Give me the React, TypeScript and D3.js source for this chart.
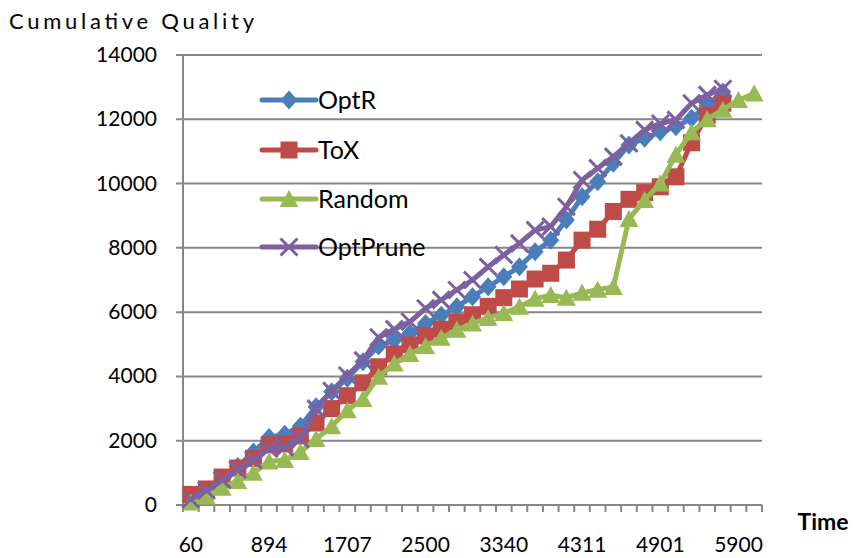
import React from "react";
import * as d3 from "d3";

// Data (37 time steps, labels shown every 5th step)
const categories = d3.range(37);
const tickLabels = ["60", "894", "1707", "2500", "3340", "4311", "4901", "5900"];
const yTicks = [0, 2000, 4000, 6000, 8000, 10000, 12000, 14000];

const optR = [
  150, 400, 800, 1200, 1650, 2100, 2200, 2450, 3060, 3520, 3940, 4460, 4950,
  5130, 5340, 5650, 5900, 6170, 6480, 6790, 7100, 7410, 7880, 8240, 8870, 9590,
  10060, 10630, 11200, 11410, 11610, 11770, 12030, 12440, 12850,
];
const toX = [
  330, 500, 870, 1150, 1450, 1870, 1900, 2150, 2550, 3000, 3400, 3800, 4300,
  4700, 4980, 5260, 5470, 5700, 5920, 6180, 6450, 6720, 7030, 7210, 7620, 8240,
  8580, 9130, 9510, 9720, 9900, 10210, 11270, 12130, 12500,
];
const random = [
  80, 260, 540, 750, 1000, 1350, 1400, 1650, 2050, 2450, 2950, 3300, 3990,
  4400, 4700, 4950, 5200, 5450, 5650, 5820, 5970, 6170, 6420, 6530, 6450, 6600,
  6700, 6780, 8900, 9490, 10000, 10900, 11600, 12000, 12300, 12600, 12800,
];
const optPrune = [
  180, 450, 780, 1100, 1400, 1750, 1800, 2050, 3000, 3550, 4030, 4500, 5220,
  5470, 5700, 6120, 6380, 6690, 7000, 7410, 7780, 8140, 8550, 8660, 9280,
  10110, 10480, 10840, 11250, 11670, 11870, 11980, 12500, 12760, 12950,
];

const seriesNames = ["OptR", "ToX", "Random", "OptPrune"];
const seriesValues = [optR, toX, random, optPrune];
const seriesColors = ["#4A7EBB", "#BE4B48", "#98B954", "#7D60A0"];
const seriesMarkers = ["diamond", "square", "triangle", "x"];

const W = 853;
const H = 558;
const FONT = "Lato, 'Open Sans', sans-serif";
const GRID = "#878787";

// marker shape around (0,0)
const markerPath = (kind: string) => {
  switch (kind) {
    case "diamond":
      return "M0,-9.5L8.5,0L0,9.5L-8.5,0Z";
    case "square":
      return "M-8.5,-8.5H8.5V8.5H-8.5Z";
    case "triangle":
      return "M0,-9L9.5,8L-9.5,8Z";
    default:
      return "M-8.5,-8.5L8.5,8.5M8.5,-8.5L-8.5,8.5";
  }
};

const Marker: React.FC<{ kind: string; color: string; x: number; y: number }> = ({
  kind,
  color,
  x,
  y,
}) => {
  const isX = kind === "x";
  return (
    <path
      d={markerPath(kind)}
      transform={`translate(${x},${y})`}
      fill={isX ? "none" : color}
      stroke={color}
      strokeWidth={isX ? 3 : 0}
    />
  );
};

const App: React.FC = () => {
  const x = d3
    .scaleBand<number>()
    .domain(categories)
    .range([183, 762])
    .paddingInner(0)
    .paddingOuter(0);
  const y = d3.scaleLinear().domain([0, 14000]).range([505, 55]);
  const cx = (i: number) => (x(i) as number) + x.bandwidth() / 2;

  const line = d3
    .line<number>()
    .x((_, i) => cx(i))
    .y((d) => y(d));

  const legendX = 262;
  const legendY = [100, 150, 199, 247];

  return (
    <div style={{ position: "absolute", left: 0, top: 0 }}>
      <svg width={W} height={H} style={{ display: "block", background: "#fff" }}>
        {/* Title */}
        <text
          x={9}
          y={29}
          fontFamily={FONT}
          fontSize={22}
          textLength={245}
          lengthAdjust="spacing"
          fill="#000"
        >
          Cumulative Quality
        </text>

        {/* Gridlines + y ticks */}
        {yTicks.map((t) => (
          <g key={t}>
            <line x1={176} x2={762} y1={y(t)} y2={y(t)} stroke={GRID} strokeWidth={2} />
            <text
              x={157}
              y={y(t) + 7}
              textAnchor="end"
              fontFamily={FONT}
              fontSize={21}
              fill="#000"
            >
              {t}
            </text>
          </g>
        ))}

        {/* Y axis */}
        <line x1={183} x2={183} y1={y(14000)} y2={y(0)} stroke={GRID} strokeWidth={2} />

        {/* X axis ticks */}
        {categories.concat([categories.length]).map((i) => {
          const px = i < categories.length ? (x(i) as number) : 762;
          return (
            <line key={i} x1={px} x2={px} y1={505} y2={512} stroke={GRID} strokeWidth={2} />
          );
        })}
        {tickLabels.map((lab, k) => (
          <text
            key={lab}
            x={cx(k * 5)}
            y={552}
            textAnchor="middle"
            fontFamily={FONT}
            fontSize={21}
            fill="#000"
          >
            {lab}
          </text>
        ))}
        <text
          x={823}
          y={530}
          textAnchor="middle"
          fontFamily={FONT}
          fontSize={23}
          fontWeight="bold"
          fill="#000"
        >
          Time
        </text>

        {/* Series */}
        {seriesValues.map((vals, s) => (
          <g key={seriesNames[s]}>
            <path
              d={line(vals) as string}
              fill="none"
              stroke={seriesColors[s]}
              strokeWidth={5}
              strokeLinejoin="round"
              strokeLinecap="round"
            />
            {vals.map((v, i) => (
              <Marker
                key={i}
                kind={seriesMarkers[s]}
                color={seriesColors[s]}
                x={cx(i)}
                y={y(v)}
              />
            ))}
          </g>
        ))}

        {/* Legend */}
        {seriesNames.map((name, s) => (
          <g key={name}>
            <line
              x1={legendX}
              x2={legendX + 54}
              y1={legendY[s]}
              y2={legendY[s]}
              stroke={seriesColors[s]}
              strokeWidth={5}
              strokeLinecap="round"
            />
            <Marker
              kind={seriesMarkers[s]}
              color={seriesColors[s]}
              x={legendX + 27}
              y={legendY[s]}
            />
            <text
              x={legendX + 56}
              y={legendY[s] + 9}
              fontFamily={FONT}
              fontSize={25}
              fill="#000"
            >
              {name}
            </text>
          </g>
        ))}
      </svg>
    </div>
  );
};

export default App;
